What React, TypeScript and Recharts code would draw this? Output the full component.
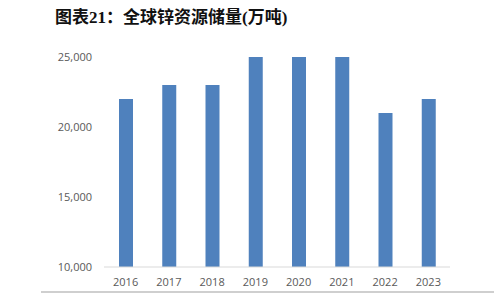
import React from "react";
import { BarChart, Bar, XAxis, YAxis } from "recharts";

const years = ["2016", "2017", "2018", "2019", "2020", "2021", "2022", "2023"];
const reserves = [22000, 23000, 23000, 25000, 25000, 25000, 21000, 22000];
const yTicks = [10000, 15000, 20000, 25000];
const title = "图表21：全球锌资源储量(万吨)";

const data = years.map((y, i) => ({ year: y, value: reserves[i] }));

const fmt = (v: number) => v.toLocaleString("en-US");

export default function App() {
  return (
    <div style={{ position: "absolute", left: 0, top: 0, width: 494, height: 294, background: "#fff" }}>
      <div
        style={{
          position: "absolute",
          left: 55,
          top: 7,
          fontFamily: "'Liberation Serif', 'Noto Sans CJK SC', serif",
          fontWeight: "bold",
          fontSize: 17,
          lineHeight: "22px",
          color: "#111",
          whiteSpace: "nowrap",
        }}
      >
        {title}
      </div>
      <div style={{ position: "absolute", left: 0, top: 0 }}>
        <BarChart
          width={494}
          height={294}
          data={data}
          margin={{ top: 57, right: 44, bottom: 0, left: 0 }}
        >
          <XAxis
            dataKey="year"
            height={27}
            tickLine={false}
            axisLine={{ stroke: "#d9d9d9", strokeWidth: 1 }}
            tick={{ fill: "#595959", fontSize: 11, fontFamily: "'Open Sans', 'Liberation Sans', sans-serif" }}
            tickMargin={5}
            interval={0}
          />
          <YAxis
            width={104}
            domain={[10000, 25000]}
            ticks={yTicks}
            tickFormatter={fmt}
            axisLine={false}
            tickLine={false}
            tickMargin={6}
            allowDataOverflow
            tick={{ fill: "#595959", fontSize: 11, fontFamily: "'Open Sans', 'Liberation Sans', sans-serif" }}
          />
          <Bar dataKey="value" fill="#4F81BD" barSize={14} isAnimationActive={false} />
        </BarChart>
      </div>
      <div style={{ position: "absolute", left: 41, top: 291, width: 453, height: 2, background: "#cfcfcf" }} />
    </div>
  );
}
